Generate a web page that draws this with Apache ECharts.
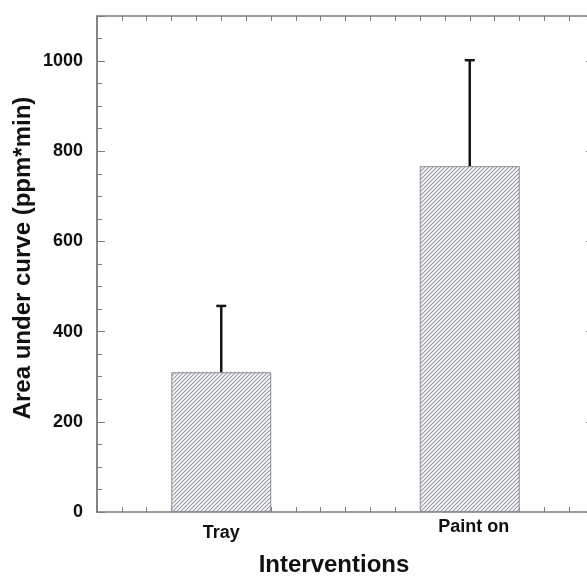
<!DOCTYPE html>
<html>
<head>
<meta charset="utf-8">
<script src="https://cdn.jsdelivr.net/npm/echarts@6/dist/echarts.min.js"></script>
<style>
  html, body { margin: 0; padding: 0; background: #fff; }
  #chart { width: 587px; height: 576px; }
</style>
</head>
<body>
<div id="chart"></div>
<script>
// data
const categories = ['Tray', 'Paint on'];
const auc = [310, 767];
const aucErr = [147, 235]; // only the upper whisker is drawn
const yTicks = [0, 200, 400, 600, 800, 1000];

// x runs 0..20, each category gets 10 minor steps, bar sits in the middle
const slot = i => i * 10 + 5;

const axisGrey = '#7d7d7d';
const font = "'Liberation Sans', Arial, sans-serif";

// diagonal hatch for the bars
function hatch() {
  const c = document.createElement('canvas');
  c.width = 4; c.height = 4;
  const ctx = c.getContext('2d');
  ctx.fillStyle = '#fbfbfd';
  ctx.fillRect(0, 0, 4, 4);
  ctx.strokeStyle = '#9597a4';
  ctx.lineWidth = 1.1;
  ctx.beginPath();
  ctx.moveTo(-1, 5); ctx.lineTo(5, -1);
  ctx.moveTo(-1, 1); ctx.lineTo(1, -1);
  ctx.moveTo(3, 5); ctx.lineTo(5, 3);
  ctx.stroke();
  return c;
}

const chart = echarts.init(document.getElementById('chart'));

const xBase = {
  type: 'value', min: 0, max: 20, interval: 1,
  axisLine: { onZero: false, lineStyle: { color: axisGrey, width: 1.5 } },
  axisTick: { inside: true, length: 5, lineStyle: { color: axisGrey, width: 1 } },
  splitLine: { show: false }
};
const yBase = {
  type: 'value', min: 0, max: 1100,
  axisLine: { show: true, onZero: false, lineStyle: { color: axisGrey, width: 1.5 } },
  splitLine: { show: false }
};

chart.setOption({
  animation: false,
  backgroundColor: '#fff',
  grid: { left: 97, top: 16, width: 497, height: 496, outerBoundsMode: 'none', containLabel: false },
  xAxis: [
    Object.assign({}, xBase, {
      position: 'bottom',
      axisLabel: {
        margin: 6,
        color: '#111', fontFamily: font, fontWeight: 'bold', fontSize: 18,
        formatter: v => {
          const i = categories.findIndex((c, k) => slot(k) === v);
          return i < 0 ? '' : '{c' + i + '|' + categories[i] + '}';
        },
        rich: {
          c0: { padding: [6, 0, 0, 0], color: '#111', fontFamily: font, fontWeight: 'bold', fontSize: 18 },
          c1: { padding: [0, 0, 0, 8], color: '#111', fontFamily: font, fontWeight: 'bold', fontSize: 18 }
        }
      }
    }),
    Object.assign({}, xBase, { position: 'top', axisLabel: { show: false } })
  ],
  yAxis: [
    Object.assign({}, yBase, {
      position: 'left', interval: 200,
      axisTick: { inside: true, length: 8, lineStyle: { color: axisGrey, width: 1 } },
      axisLabel: {
        margin: 14, color: '#111', fontFamily: font, fontWeight: 'bold', fontSize: 18,
        formatter: v => yTicks.includes(v) ? String(v) : ''
      }
    }),
    Object.assign({}, yBase, {
      position: 'left', interval: 50,
      axisTick: { inside: true, length: 5, lineStyle: { color: axisGrey, width: 1 } },
      axisLabel: { show: false }
    }),
    Object.assign({}, yBase, {
      position: 'right', interval: 200,
      axisTick: { inside: true, length: 8, lineStyle: { color: axisGrey, width: 1 } },
      axisLabel: { show: false }
    })
  ],
  graphic: [
    {
      type: 'text', x: 23, y: 258, rotation: Math.PI / 2,
      style: {
        text: 'Area under curve (ppm*min)', x: 0, y: 0,
        font: 'bold 24px ' + font, fill: '#111',
        textAlign: 'center', textVerticalAlign: 'middle'
      }
    },
    {
      type: 'text', x: 334, y: 565,
      style: {
        text: 'Interventions', x: 0, y: 0,
        font: 'bold 24px ' + font, fill: '#111',
        textAlign: 'center', textVerticalAlign: 'middle'
      }
    }
  ],
  series: [
    {
      type: 'bar',
      xAxisIndex: 0, yAxisIndex: 0,
      barWidth: 100,
      data: categories.map((c, i) => [slot(i), auc[i]]),
      itemStyle: {
        color: { image: hatch(), repeat: 'repeat' },
        borderColor: '#8c8c94', borderWidth: 1
      }
    },
    {
      type: 'custom',
      xAxisIndex: 0, yAxisIndex: 0,
      z: 5,
      data: categories.map((c, i) => [slot(i), auc[i], auc[i] + aucErr[i]]),
      renderItem: (params, api) => {
        const base = api.coord([api.value(0), api.value(1)]);
        const top = api.coord([api.value(0), api.value(2)]);
        const st = { stroke: '#151515', lineWidth: 2.5 };
        return {
          type: 'group',
          children: [
            { type: 'line', shape: { x1: base[0], y1: base[1], x2: top[0], y2: top[1] }, style: st },
            { type: 'line', shape: { x1: top[0] - 5, y1: top[1], x2: top[0] + 5, y2: top[1] }, style: st }
          ]
        };
      }
    }
  ]
});
</script>
</body>
</html>
